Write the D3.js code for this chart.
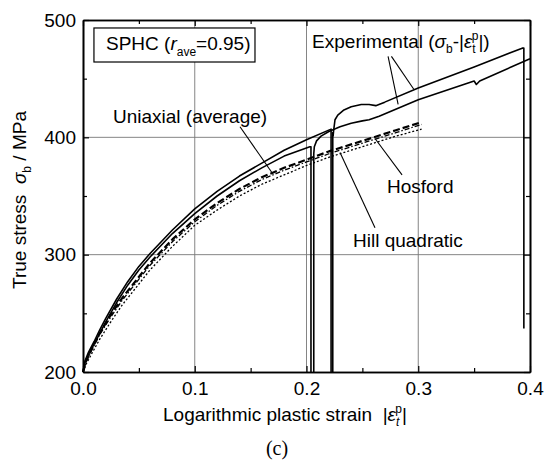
<!DOCTYPE html>
<html>
<head>
<meta charset="utf-8">
<script src="https://cdn.jsdelivr.net/npm/d3@7"></script>
<style>
  body { margin: 0; background: #fff; }
  svg { font-family: "Liberation Sans", Arial, sans-serif; }
  .serif { font-family: "Liberation Serif", "Times New Roman", serif; }
</style>
</head>
<body>
<svg id="chart" width="559" height="463"></svg>
<script>
// axis ticks
const xTicks = [0, 0.1, 0.2, 0.3, 0.4];
const xMinor = [0.05, 0.15, 0.25, 0.35];
const yTicks = [200, 300, 400, 500];
const yMinor = [250, 350, 450];

// experimental, specimen 1: loading, unloading, reloading
const exp1LoadStrain = [0, 0.002, 0.005, 0.01, 0.015, 0.02, 0.03, 0.04, 0.05, 0.06, 0.08, 0.1, 0.12, 0.14, 0.16, 0.18, 0.203, 0.204, 0.204];
const exp1LoadStress = [200, 209, 215, 224, 233, 242, 259, 274, 287, 298, 318, 335, 350, 363, 374, 384, 392, 392, 200];
const exp1ReloadStrain = [0.2065, 0.2065, 0.207, 0.209, 0.213, 0.22, 0.23, 0.24, 0.25, 0.256, 0.265, 0.3, 0.35, 0.352, 0.355, 0.4];
const exp1ReloadStress = [200, 386, 392, 397, 401, 405, 409, 412, 414, 415, 418, 432, 448, 445, 448, 467];

// experimental, specimen 2
const exp2LoadStrain = [0, 0.002, 0.005, 0.01, 0.015, 0.02, 0.03, 0.04, 0.05, 0.06, 0.08, 0.1, 0.12, 0.14, 0.16, 0.18, 0.2, 0.222, 0.222];
const exp2LoadStress = [200, 210, 217, 226, 236, 245, 262, 277, 290, 301, 321, 339, 354, 367, 378, 389, 398, 407, 200];
const exp2ReloadStrain = [0.2235, 0.2235, 0.2238, 0.2242, 0.2255, 0.228, 0.233, 0.24, 0.249, 0.256, 0.262, 0.27, 0.3, 0.35, 0.393, 0.3945, 0.3945];
const exp2ReloadStress = [200, 404, 401, 405, 415, 419, 423, 426, 428, 428, 427, 430, 442, 460, 476, 476, 237];

// predicted curves
const modelStrain = [0, 0.003, 0.008, 0.015, 0.025, 0.035, 0.045, 0.06, 0.08, 0.1, 0.12, 0.14, 0.16, 0.18, 0.2, 0.22, 0.24, 0.26, 0.28, 0.303];
const uniaxialStress = [200, 210, 220, 233, 249, 263, 275, 293, 313, 330, 344, 356, 366, 374, 381, 388, 394, 400, 406, 413];
const hosfordStress = [200, 209, 219, 232, 247, 261, 273, 291, 311, 328, 342, 354, 364, 372, 379, 386, 392, 398, 404, 411];
const hillStress = [200, 207, 216, 228, 243, 257, 269, 287, 307, 325, 338, 350, 360, 368, 376, 383, 389, 395, 401, 407];

const svg = d3.select('#chart');

const x = d3.scaleLinear().domain([0, 0.4]).range([83, 530]);
const y = d3.scaleLinear().domain([200, 500]).range([372, 20]);

// grid
svg.append('g').selectAll('line')
  .data(xTicks.slice(1, -1))
  .enter().append('line')
  .attr('x1', d => x(d)).attr('x2', d => x(d))
  .attr('y1', y(200)).attr('y2', y(500))
  .attr('stroke', '#777').attr('stroke-width', 0.9);
svg.append('g').selectAll('line')
  .data(yTicks.slice(1, -1))
  .enter().append('line')
  .attr('y1', d => y(d)).attr('y2', d => y(d))
  .attr('x1', x(0)).attr('x2', x(0.4))
  .attr('stroke', '#777').attr('stroke-width', 0.9);

// axes, ticks pointing inward
function styleAxis(g) {
  g.select('.domain').attr('stroke', '#000').attr('stroke-width', 1.6);
  g.selectAll('.tick line').attr('stroke', '#000').attr('stroke-width', 1.2);
  g.selectAll('text').attr('font-size', 19).attr('fill', '#000')
    .attr('font-family', '"Liberation Sans", Arial, sans-serif');
}
svg.append('g').attr('transform', 'translate(0,' + y(200) + ')')
  .call(d3.axisBottom(x).tickValues(xTicks).tickSize(-6).tickSizeOuter(0)
    .tickPadding(10).tickFormat(d3.format('.1f')))
  .call(styleAxis);
svg.append('g').attr('transform', 'translate(0,' + y(500) + ')')
  .call(d3.axisTop(x).tickValues(xTicks).tickSize(-6).tickSizeOuter(0).tickFormat(''))
  .call(styleAxis);
svg.append('g').attr('transform', 'translate(' + x(0) + ',0)')
  .call(d3.axisLeft(y).tickValues(yTicks).tickSize(-6).tickSizeOuter(0).tickPadding(7))
  .call(styleAxis);
svg.append('g').attr('transform', 'translate(' + x(0.4) + ',0)')
  .call(d3.axisRight(y).tickValues(yTicks).tickSize(-6).tickSizeOuter(0).tickFormat(''))
  .call(styleAxis);

// minor ticks
svg.append('g').attr('transform', 'translate(0,' + y(200) + ')')
  .call(d3.axisBottom(x).tickValues(xMinor).tickSize(-4).tickSizeOuter(0).tickFormat(''))
  .call(styleAxis);
svg.append('g').attr('transform', 'translate(0,' + y(500) + ')')
  .call(d3.axisTop(x).tickValues(xMinor).tickSize(-4).tickSizeOuter(0).tickFormat(''))
  .call(styleAxis);
svg.append('g').attr('transform', 'translate(' + x(0) + ',0)')
  .call(d3.axisLeft(y).tickValues(yMinor).tickSize(-4).tickSizeOuter(0).tickFormat(''))
  .call(styleAxis);
svg.append('g').attr('transform', 'translate(' + x(0.4) + ',0)')
  .call(d3.axisRight(y).tickValues(yMinor).tickSize(-4).tickSizeOuter(0).tickFormat(''))
  .call(styleAxis);

// curves
const zip = (a, b) => a.map((d, i) => [d, b[i]]);
const line = d3.line().x(d => x(d[0])).y(d => y(d[1]));

const curves = [
  { pts: zip(modelStrain, hillStress), width: 1.3, dash: '2,2' },
  { pts: zip(modelStrain, hosfordStress), width: 1.3, dash: '5,2,1.5,2' },
  { pts: zip(modelStrain, uniaxialStress), width: 2.2, dash: '7,3' },
  { pts: zip(exp1LoadStrain, exp1LoadStress), width: 1.6, dash: null },
  { pts: zip(exp1ReloadStrain, exp1ReloadStress), width: 1.6, dash: null },
  { pts: zip(exp2LoadStrain, exp2LoadStress), width: 1.6, dash: null },
  { pts: zip(exp2ReloadStrain, exp2ReloadStress), width: 1.6, dash: null }
];

svg.append('g').selectAll('path')
  .data(curves)
  .enter().append('path')
  .attr('d', d => line(d.pts))
  .attr('fill', 'none')
  .attr('stroke', '#000')
  .attr('stroke-width', d => d.width)
  .attr('stroke-dasharray', d => d.dash)
  .attr('stroke-linejoin', 'round');

// pointer lines for annotations
const pointers = [
  [[0.273, 469], [0.282, 428]],
  [[0.276, 469], [0.296, 441]],
  [[0.1405, 409], [0.169, 370]],
  [[0.2855, 368], [0.2613, 399]],
  [[0.2613, 323], [0.23, 387]]
];
svg.append('g').selectAll('line')
  .data(pointers)
  .enter().append('line')
  .attr('x1', d => x(d[0][0])).attr('y1', d => y(d[0][1]))
  .attr('x2', d => x(d[1][0])).attr('y2', d => y(d[1][1]))
  .attr('stroke', '#000').attr('stroke-width', 1.1);

// labels
function label(sx, sy, txt) {
  return svg.append('text').attr('x', x(sx)).attr('y', y(sy))
    .attr('font-size', 19).attr('fill', '#000').text(txt);
}
label(0.0268, 412, 'Uniaxial (average)');
label(0.272, 352.5, 'Hosford');
label(0.2416, 306.5, 'Hill quadratic');

// experimental label with sigma_b and epsilon_t^p
const exp = svg.append('text').attr('x', x(0.205)).attr('y', y(476))
  .attr('font-size', 19).attr('fill', '#000').style('white-space', 'pre');
exp.append('tspan').text('Experimental (');
exp.append('tspan').attr('font-style', 'italic').text('σ');
exp.append('tspan').attr('font-size', 12).attr('dy', 5).text('b');
exp.append('tspan').attr('dy', -5).text('-|');
exp.append('tspan').attr('font-style', 'italic').text('ε');
exp.append('tspan').attr('font-size', 12).attr('dy', 5).text('t');
exp.append('tspan').attr('font-size', 12).attr('dx', -4).attr('dy', -13).text('p');
exp.append('tspan').attr('dy', 8).text('|)');

// material box
svg.append('rect')
  .attr('x', x(0.0098)).attr('y', y(493.2))
  .attr('width', x(0.1539) - x(0.0098)).attr('height', y(464.2) - y(493.2))
  .attr('fill', '#fff').attr('stroke', '#000').attr('stroke-width', 1.2);
const box = svg.append('text').attr('x', x(0.0206)).attr('y', y(474.4))
  .attr('font-size', 19).attr('fill', '#000');
box.append('tspan').text('SPHC (');
box.append('tspan').attr('font-style', 'italic').text('r');
box.append('tspan').attr('font-size', 12).attr('dy', 6).text('ave');
box.append('tspan').attr('dy', -6).text('=0.95)');

// axis titles
const yt = svg.append('text')
  .attr('transform', 'translate(26,200) rotate(-90)')
  .attr('text-anchor', 'middle').attr('font-size', 19).attr('fill', '#000')
  .style('white-space', 'pre');
yt.append('tspan').text('True stress  ');
yt.append('tspan').attr('font-style', 'italic').text('σ');
yt.append('tspan').attr('font-size', 12).attr('dy', 5).text('b');
yt.append('tspan').attr('dy', -5).text(' / MPa');

const xt = svg.append('text').attr('x', 163).attr('y', 421)
  .attr('font-size', 19).attr('fill', '#000').style('white-space', 'pre');
xt.append('tspan').text('Logarithmic plastic strain  |');
xt.append('tspan').attr('font-style', 'italic').text('ε');
xt.append('tspan').attr('font-size', 12).attr('font-style', 'italic').attr('dy', 5).text('t');
xt.append('tspan').attr('font-size', 12).attr('dx', -4).attr('dy', -13).text('p');
xt.append('tspan').attr('dy', 8).text('|');

svg.append('text').attr('class', 'serif')
  .attr('x', 277).attr('y', 455).attr('text-anchor', 'middle')
  .attr('font-size', 20).attr('fill', '#000').text('(c)');
</script>
</body>
</html>
